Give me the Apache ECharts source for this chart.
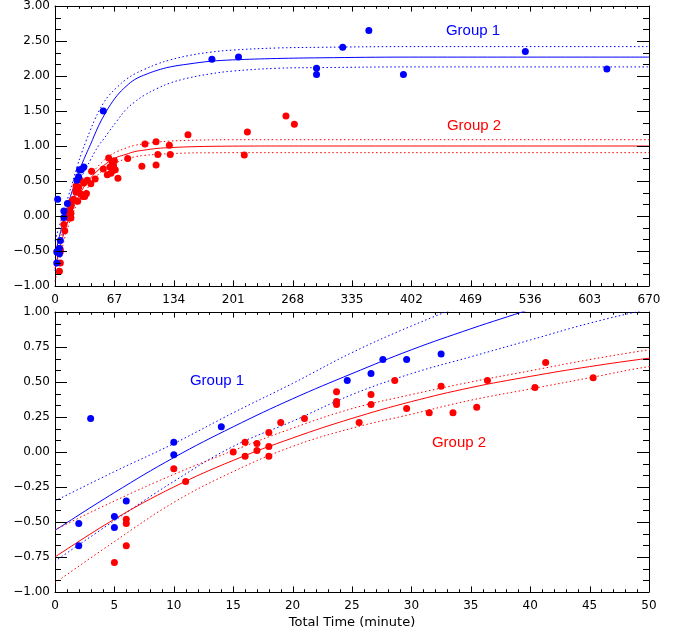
<!DOCTYPE html>
<html>
<head>
<meta charset="utf-8">
<script src="https://cdn.jsdelivr.net/npm/echarts@6/dist/echarts.min.js"></script>
<style>
  html, body { margin: 0; padding: 0; background: #ffffff; }
  #chart { width: 681px; height: 635px; }
</style>
</head>
<body>
<div id="chart"></div>
<script>
// ---- Data ----
// Group 1 (blue) observations: time (minute), value
const blueT = [2, 2, 3, 5, 5, 6, 10, 10, 14, 24.6, 26.6, 27.6, 29.6, 32.5, 54.5, 177, 207, 295, 295, 324.5, 354, 393, 530.5, 622.5];
const blueV = [-0.51, -0.67, 0.24, -0.46, -0.54, -0.35, 0.07, -0.02, 0.18, 0.51, 0.56, 0.66, 0.66, 0.70, 1.50, 2.24, 2.27, 2.11, 2.02, 2.41, 2.65, 2.02, 2.35, 2.10];

// Group 2 (red) observations
const redT = [5, 6, 6, 6, 10, 11, 15, 16, 16, 17, 17, 18, 18, 18, 19, 21, 23.7, 23.7, 23.7, 25.6, 26.6, 26.6, 28.6, 29.6, 31.5, 32.5, 33.5, 35.5, 36.4, 40.4, 41.3, 45.3,
              54.5, 59, 60.5, 62, 63, 64.5, 65.5, 66, 67, 68, 71, 82, 98, 101.5, 114, 114, 116, 129, 130, 150, 213.5, 217, 260.5, 270];
const redV = [-0.79, -0.48, -0.51, -0.67, -0.12, -0.21, 0.00, 0.07, -0.03, 0.06, 0.01, 0.14, 0.04, -0.03, 0.21, 0.24, 0.43, 0.36, 0.34, 0.21, 0.41, 0.34, 0.51, 0.31, 0.28, 0.47, 0.28, 0.32, 0.51, 0.46, 0.64, 0.53,
              0.67, 0.59, 0.83, 0.70, 0.61, 0.77, 0.65, 0.72, 0.79, 0.66, 0.54, 0.82, 0.71, 1.03, 1.06, 0.73, 0.88, 1.01, 0.88, 1.16, 0.87, 1.20, 1.43, 1.31];

// Fitted curves and confidence bands
const fitT      = [0, 5, 10, 15, 20, 25, 30, 35, 40, 45, 50, 55, 60, 70, 80, 90, 100, 115, 130, 150, 175, 200, 250, 300, 400, 670];
const blueFit   = [-0.56, -0.29, -0.04, 0.18, 0.38, 0.56, 0.73, 0.88, 1.02, 1.17, 1.31, 1.43, 1.54, 1.72, 1.85, 1.95, 2.01, 2.08, 2.13, 2.17, 2.21, 2.23, 2.25, 2.26, 2.27, 2.27];
const blueUpper = [-0.35, -0.14, 0.06, 0.28, 0.49, 0.71, 0.90, 1.07, 1.23, 1.38, 1.51, 1.62, 1.71, 1.84, 1.95, 2.03, 2.09, 2.17, 2.23, 2.29, 2.34, 2.37, 2.40, 2.41, 2.42, 2.42];
const blueLower = [-0.78, -0.49, -0.21, 0.04, 0.22, 0.41, 0.56, 0.68, 0.80, 0.92, 1.02, 1.10, 1.19, 1.36, 1.52, 1.63, 1.72, 1.82, 1.90, 1.97, 2.03, 2.07, 2.11, 2.12, 2.13, 2.13];
const redFit    = [-0.75, -0.48, -0.25, -0.06, 0.10, 0.24, 0.36, 0.46, 0.54, 0.61, 0.67, 0.72, 0.77, 0.84, 0.88, 0.92, 0.94, 0.965, 0.977, 0.988, 0.995, 0.998, 1.00, 1.00, 1.00, 1.00];
const redUpper  = [-0.555, -0.35, -0.16, 0.01, 0.17, 0.31, 0.41, 0.50, 0.58, 0.66, 0.73, 0.79, 0.85, 0.92, 0.97, 1.01, 1.03, 1.055, 1.07, 1.08, 1.087, 1.09, 1.09, 1.09, 1.09, 1.09];
const redLower  = [-0.935, -0.64, -0.36, -0.14, 0.04, 0.17, 0.27, 0.37, 0.45, 0.53, 0.61, 0.66, 0.71, 0.77, 0.815, 0.845, 0.865, 0.88, 0.89, 0.90, 0.903, 0.905, 0.905, 0.905, 0.905, 0.905];

// Axis settings (tick labels)
const topXMax = 670, topXStep = 67;
const topYMin = -1, topYMax = 3, topYStep = 0.5;
const botXMax = 50, botXStep = 5;
const botYMin = -1, botYMax = 1, botYStep = 0.25;
const xMinorSplit = 5, yMinorSplit = 3;
const xTitle = 'Total Time (minute)';

// ---- Build chart ----
const BLUE = '#0000ff', RED = '#ff0000';
const tickFont = 'DejaVu Sans';
function pairs(t, v, tMax) {
  const out = [];
  t.forEach((x, i) => { if (x <= tMax) out.push([x, v[i]]); });
  return out;
}
function yFmt(v) {
  return (v < -1e-9 ? '\u2212' : '') + Math.abs(v).toFixed(2);
}

function xAxisDef(grid, pos, max, step, showLabel) {
  return {
    type: 'value', gridIndex: grid, position: pos, min: 0, max: max, interval: step,
    axisLine: { show: true, onZero: false, lineStyle: { color: '#000', width: 1 } },
    axisTick: { show: false },
    minorTick: { show: false },
    splitLine: { show: false },
    axisLabel: { show: showLabel, margin: 8, color: '#000', fontFamily: tickFont, fontSize: 12 }
  };
}
function yAxisDef(grid, pos, min, max, step, showLabel) {
  return {
    type: 'value', gridIndex: grid, position: pos, min: min, max: max, interval: step,
    axisLine: { show: true, onZero: false, lineStyle: { color: '#000', width: 1 } },
    axisTick: { show: false },
    minorTick: { show: false },
    splitLine: { show: false },
    axisLabel: { show: showLabel, margin: 5, color: '#000', fontFamily: tickFont, fontSize: 12, formatter: yFmt }
  };
}

function lineSeries(xi, yi, t, v, tMax, color, dotted) {
  return {
    type: 'line', xAxisIndex: xi, yAxisIndex: yi, data: pairs(t, v, tMax),
    showSymbol: false, smooth: 0.4, clip: true,
    lineStyle: { color: color, width: 1, type: dotted ? [1.5, 2.5] : 'solid' },
    silent: true, z: 2
  };
}
function scatterSeries(xi, yi, t, v, tMax, color) {
  return {
    type: 'scatter', xAxisIndex: xi, yAxisIndex: yi, data: pairs(t, v, tMax),
    symbolSize: 7, clip: true,
    itemStyle: { color: color, opacity: 1 }, z: 3
  };
}

// Inward tick marks on all four sides of a panel, placed through the axes' own scales.
function tickSeries(xi, yi, xMax, xStep, yMin, yMax, yStep) {
  const items = [];
  const xMinor = xStep / xMinorSplit, yMinor = yStep / yMinorSplit;
  const nx = Math.round(xMax / xMinor), ny = Math.round((yMax - yMin) / yMinor);
  for (let k = 0; k <= nx; k++) items.push([0, k * xMinor, k % xMinorSplit === 0 ? 1 : 0]);
  for (let k = 0; k <= ny; k++) items.push([1, yMin + k * yMinor, k % yMinorSplit === 0 ? 1 : 0]);
  const ln = (x1, y1, x2, y2) => ({ type: 'line', shape: { x1: x1, y1: y1, x2: x2, y2: y2 },
                                     style: { stroke: '#000', lineWidth: 1 } });
  return {
    type: 'custom', xAxisIndex: xi, yAxisIndex: yi, data: items, clip: false, silent: true, z: 4,
    renderItem: function (params, api) {
      const kind = api.value(0), v = api.value(1), major = api.value(2);
      if (kind === 0) {
        const len = major ? 5.6 : 2.8;
        const b = api.coord([v, yMin]), t = api.coord([v, yMax]);
        const x = Math.round(b[0]) + 0.5;
        return { type: 'group', children: [ln(x, b[1], x, b[1] - len), ln(x, t[1], x, t[1] + len)] };
      } else {
        const len = major ? 12 : 6;
        const l = api.coord([0, v]), r = api.coord([xMax, v]);
        const y = Math.round(l[1]) + 0.5;
        return { type: 'group', children: [ln(l[0], y, l[0] + len, y), ln(r[0], y, r[0] - len, y)] };
      }
    }
  };
}

const series = [];
// top panel: xAxis 0 / yAxis 0 ; bottom panel: xAxis 1 / yAxis 1
[[0, 0, topXMax, topXMax], [1, 1, 60, botXMax]].forEach(([xi, yi, lineMax, ptMax]) => {
  series.push(lineSeries(xi, yi, fitT, blueUpper, lineMax, BLUE, true));
  series.push(lineSeries(xi, yi, fitT, blueLower, lineMax, BLUE, true));
  series.push(lineSeries(xi, yi, fitT, blueFit, lineMax, BLUE, false));
  series.push(lineSeries(xi, yi, fitT, redUpper, lineMax, RED, true));
  series.push(lineSeries(xi, yi, fitT, redLower, lineMax, RED, true));
  series.push(lineSeries(xi, yi, fitT, redFit, lineMax, RED, false));
  series.push(scatterSeries(xi, yi, redT, redV, ptMax, RED));
  series.push(scatterSeries(xi, yi, blueT, blueV, ptMax, BLUE));
});
series.push(tickSeries(0, 0, topXMax, topXStep, topYMin, topYMax, topYStep));
series.push(tickSeries(1, 1, botXMax, botXStep, botYMin, botYMax, botYStep));

function label(text, x, y, color, font) {
  return { type: 'text', x: x, y: y, silent: true, z: 10,
           style: { text: text, fill: color, font: font, align: 'center', verticalAlign: 'middle' } };
}
const groupFont = '15px "Liberation Sans", Arial, sans-serif';

const option = {
  animation: false,
  backgroundColor: '#ffffff',
  grid: [
    { left: 55, top: 6, width: 594, height: 280 },
    { left: 55, top: 312, width: 594, height: 280 },
    { left: 55, top: 6, width: 594, height: 280 },
    { left: 55, top: 312, width: 594, height: 280 }
  ],
  xAxis: [
    xAxisDef(0, 'bottom', topXMax, topXStep, true),
    xAxisDef(1, 'bottom', botXMax, botXStep, true),
    xAxisDef(2, 'top', topXMax, topXStep, false),
    xAxisDef(3, 'top', botXMax, botXStep, false)
  ],
  yAxis: [
    yAxisDef(0, 'left', topYMin, topYMax, topYStep, true),
    yAxisDef(1, 'left', botYMin, botYMax, botYStep, true),
    yAxisDef(2, 'right', topYMin, topYMax, topYStep, false),
    yAxisDef(3, 'right', botYMin, botYMax, botYStep, false)
  ],
  series: series,
  graphic: [
    label('Group 1', 473, 31, BLUE, groupFont),
    label('Group 2', 474, 126, RED, groupFont),
    label('Group 1', 217, 381, BLUE, groupFont),
    label('Group 2', 459, 443, RED, groupFont),
    label(xTitle, 352, 623, '#000', '13px "DejaVu Sans", sans-serif')
  ]
};

const chart = echarts.init(document.getElementById('chart'), null, { renderer: 'canvas' });
chart.setOption(option);
</script>
</body>
</html>
